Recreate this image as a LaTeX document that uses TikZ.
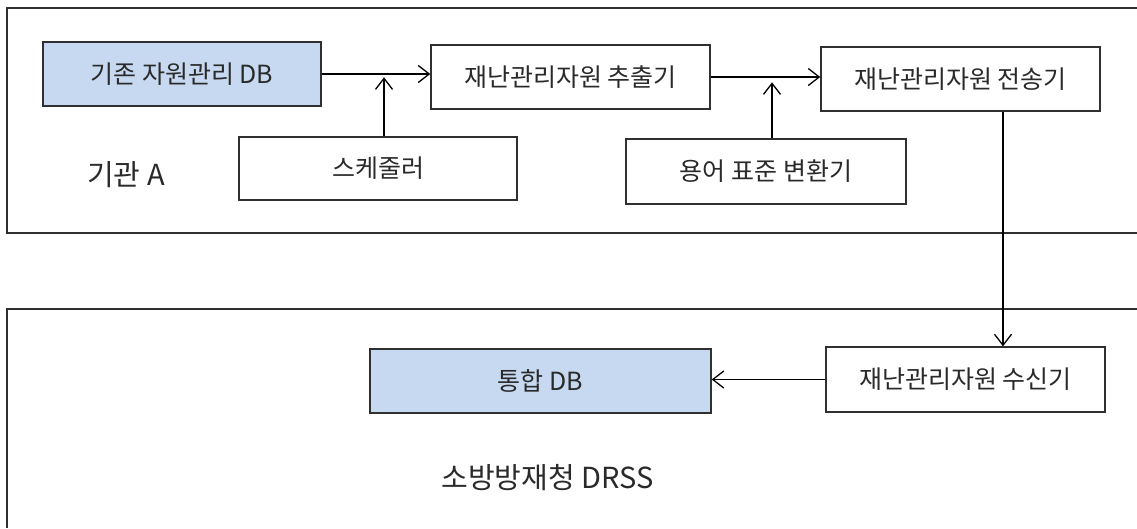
\documentclass[tikz,border=0pt]{standalone}
\usepackage{fontspec}
\setmainfont{Noto Sans CJK KR}
\usetikzlibrary{arrows.meta}
\definecolor{dbfill}{HTML}{C6D9F0}
\definecolor{edge}{HTML}{303030}
\definecolor{txt}{HTML}{2A2A2A}
\tikzset{
  box/.style={draw=edge, line width=1.4pt, fill=white, text=txt, inner sep=0pt,
    font=\fontsize{25}{29}\selectfont},
  dbbox/.style={box, fill=dbfill},
  frame/.style={draw=edge, line width=1.6pt},
  arr/.style={draw=black, line width=1.3pt, -{Straight Barb[length=11pt,width=17pt,line width=1.3pt]}},
  lab/.style={text=txt, inner sep=0pt, font=\fontsize{29}{33}\selectfont}
}
\begin{document}
\begin{tikzpicture}[x=1pt,y=-1pt]
\useasboundingbox (0,0) rectangle (1137,528);
\fill[white] (0,0) rectangle (1137,528);
% frames
\draw[frame] (1137,8) -- (7,8) -- (7,233) -- (1137,233);
\draw[frame] (1137,309) -- (7,309) -- (7,528);
% nodes
\node[dbbox, minimum width=278pt, minimum height=64pt] (db) at (182,74) {기존 자원관리 DB};
\node[box, minimum width=279pt, minimum height=64pt] (ext) at (570.5,77) {재난관리자원 추출기};
\node[box, minimum width=279pt, minimum height=64pt] (snd) at (960.5,79) {재난관리자원 전송기};
\node[box, minimum width=278pt, minimum height=63pt] (sch) at (378,168.5) {스케줄러};
\node[box, minimum width=280pt, minimum height=65pt] (term) at (766,171.5) {용어 표준 변환기};
\node[box, minimum width=279pt, minimum height=65pt] (rcv) at (965.5,379.5) {재난관리자원 수신기};
\node[dbbox, minimum width=341pt, minimum height=64pt] (idb) at (540.5,381) {통합 DB};
\node[lab] (labA) at (126,175) {기관 A};
\node[lab] (labD) at (547.5,478) {소방방재청 DRSS};
% connectors
\draw[arr] (db.east) -- (db.east -| ext.west);
\draw[arr] (ext.east) -- (ext.east -| snd.west);
\coordinate (schtop) at ([xshift=6]sch.north);
\coordinate (schtip) at ([yshift=59]schtop);
\draw[arr] (schtop) -- (schtip);
\coordinate (termtop) at ([xshift=6]term.north);
\coordinate (termtip) at ([yshift=56]termtop);
\draw[arr] (termtop) -- (termtip);
\coordinate (dtop) at ([xshift=42.5]snd.south);
\draw[arr] (dtop) -- (dtop |- rcv.north);
\draw[arr] (rcv.west) -- (rcv.west -| idb.east);
\end{tikzpicture}
\end{document}
